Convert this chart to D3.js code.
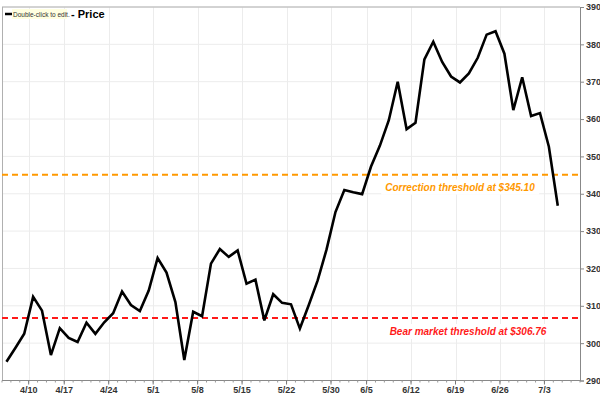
<!DOCTYPE html>
<html>
<head>
<meta charset="utf-8">
<script src="https://cdn.jsdelivr.net/npm/d3@7"></script>
<style>
  body { margin: 0; background: #fff; }
  svg { display: block; font-family: "Liberation Sans", Arial, sans-serif; }
</style>
</head>
<body>
<svg id="chart" width="600" height="395"></svg>
<script>
// ---- data ----
const dates = ["4/5","4/6","4/7","4/10","4/11","4/12","4/13","4/17","4/18","4/19","4/20","4/21",
  "4/24","4/25","4/26","4/27","4/28","5/1","5/2","5/3","5/4","5/5","5/8","5/9","5/10","5/11","5/12",
  "5/15","5/16","5/17","5/18","5/19","5/22","5/23","5/24","5/25","5/26","5/30","5/31","6/1","6/2",
  "6/5","6/6","6/7","6/8","6/9","6/12","6/13","6/14","6/15","6/16","6/19","6/20","6/21","6/22","6/23",
  "6/26","6/27","6/28","6/29","6/30","7/3","7/5"];
const prices = [295.0,298.7,302.5,312.4,308.7,296.8,304.0,301.4,300.3,305.5,302.5,305.6,
  308.0,313.8,310.2,308.6,314.1,322.8,318.9,311.0,295.5,308.4,307.2,321.3,325.2,323.1,324.8,
  315.9,317.0,306.1,313.1,310.8,310.4,303.9,310.2,316.8,325.1,335.1,341.0,340.4,339.9,
  347.3,352.9,359.7,370.0,357.3,359.0,376.0,380.7,375.3,371.4,369.8,372.2,376.4,382.6,383.5,
  377.5,362.4,371.2,360.8,361.6,352.6,336.8];
const xTickLabels = ["4/10","4/17","4/24","5/1","5/8","5/15","5/22","5/30","6/5","6/12","6/19","6/26","7/3"];
const yTicks = [290,300,310,320,330,340,350,360,370,380,390];
const thresholds = [
  {value: 345.10, label: "Correction threshold at $345.10", color: "#FF9900"},
  {value: 306.76, label: "Bear market threshold at $306.76", color: "#FF1A1A"}
];
const seriesName = "Price";

// ---- layout ----
const svg = d3.select("#chart");
const pLeft = 2, pRight = 580, pTop = 7, pBottom = 380.5;
const nSlots = 65;
const x = d3.scaleLinear().domain([0, nSlots]).range([pLeft, pRight]);
const y = d3.scaleLinear().domain([290, 390]).range([pBottom, pTop]);

// gridlines
const grid = svg.append("g");
grid.selectAll("line.h").data(yTicks).join("line")
  .attr("x1", pLeft).attr("x2", pRight)
  .attr("y1", d => y(d)).attr("y2", d => y(d))
  .attr("stroke", "#ececec").attr("stroke-width", 1);
const tickIdx = xTickLabels.map(l => dates.indexOf(l));
grid.selectAll("line.v").data(tickIdx).join("line")
  .attr("x1", d => Math.round(x(d)) + 0.5).attr("x2", d => Math.round(x(d)) + 0.5)
  .attr("y1", pTop).attr("y2", pBottom)
  .attr("stroke", "#ececec").attr("stroke-width", 1);

// frame (top and left)
svg.append("line").attr("x1", pLeft).attr("x2", pRight).attr("y1", pTop).attr("y2", pTop)
  .attr("stroke", "#b0b0b0");
svg.append("line").attr("x1", pLeft + 0.5).attr("x2", pLeft + 0.5).attr("y1", pTop).attr("y2", pBottom)
  .attr("stroke", "#b0b0b0");

// threshold lines and labels
thresholds.forEach((t) => {
  svg.append("line")
    .attr("x1", pLeft).attr("x2", pRight)
    .attr("y1", y(t.value)).attr("y2", y(t.value))
    .attr("stroke", t.color).attr("stroke-width", 2)
    .attr("stroke-dasharray", "6,4");
});
const lblPos = [{cx: 460, cy: 187}, {cx: 468, cy: 331.5}];
thresholds.forEach((t, k) => {
  const g = svg.append("g");
  const txt = g.append("text")
    .attr("x", lblPos[k].cx).attr("y", lblPos[k].cy)
    .attr("text-anchor", "middle").attr("dominant-baseline", "central")
    .attr("font-size", "10px").attr("font-weight", "bold").attr("font-style", "italic")
    .attr("fill", t.color).text(t.label);
  const bb = txt.node().getBBox();
  g.insert("rect", "text").attr("x", bb.x - 4).attr("y", bb.y - 2)
    .attr("width", bb.width + 8).attr("height", bb.height + 4).attr("fill", "#fff");
});

// price line
const line = d3.line().x((d, i) => x(i + 0.5)).y(d => y(d)).curve(d3.curveLinear);
svg.append("path").datum(prices)
  .attr("d", line).attr("fill", "none")
  .attr("stroke", "#000").attr("stroke-width", 2.6)
  .attr("stroke-linejoin", "miter").attr("stroke-miterlimit", 3);

// x axis
const xAxis = svg.append("g").attr("transform", `translate(0,${pBottom})`);
xAxis.append("line").attr("x1", pLeft).attr("x2", pRight).attr("y1", 0).attr("y2", 0)
  .attr("stroke", "#888");
xAxis.selectAll("line.minor").data(d3.range(0, nSlots + 1)).join("line")
  .attr("class", "minor")
  .attr("x1", d => x(d)).attr("x2", d => x(d)).attr("y1", 0).attr("y2", 2)
  .attr("stroke", "#999");
xAxis.selectAll("line.major").data(tickIdx).join("line")
  .attr("class", "major")
  .attr("x1", d => x(d)).attr("x2", d => x(d)).attr("y1", 0).attr("y2", 4)
  .attr("stroke", "#777");
xAxis.selectAll("text").data(xTickLabels).join("text")
  .attr("x", (d, i) => x(tickIdx[i])).attr("y", 12)
  .attr("text-anchor", "middle")
  .attr("font-size", "9px").attr("font-weight", "bold").attr("fill", "#333")
  .text(d => d);

// y axis (right)
const yAxis = d3.axisRight(y).tickValues(yTicks).tickSize(4).tickPadding(2).tickFormat(d3.format("d"));
const gy = svg.append("g").attr("transform", `translate(${pRight},0)`).call(yAxis);
gy.select(".domain").attr("stroke", "#888");
gy.selectAll(".tick line").attr("stroke", "#888");
gy.selectAll(".tick text").attr("font-size", "9px").attr("font-weight", "bold")
  .attr("fill", "#333").attr("font-family", "Liberation Sans, Arial, sans-serif");

// legend
const lg = svg.append("g");
lg.append("line").attr("x1", 5).attr("x2", 12).attr("y1", 14).attr("y2", 14)
  .attr("stroke", "#000").attr("stroke-width", 2.5);
lg.append("rect").attr("x", 12).attr("y", 9).attr("width", 55).attr("height", 10).attr("fill", "#ffffe0");
lg.append("text").attr("x", 13).attr("y", 16.5).attr("font-size", "6.5px").attr("fill", "#333")
  .text("Double-click to edit.");
lg.append("text").attr("x", 71).attr("y", 18).attr("font-size", "11px").attr("font-weight", "bold")
  .attr("fill", "#000").text("- " + seriesName);
</script>
</body>
</html>
